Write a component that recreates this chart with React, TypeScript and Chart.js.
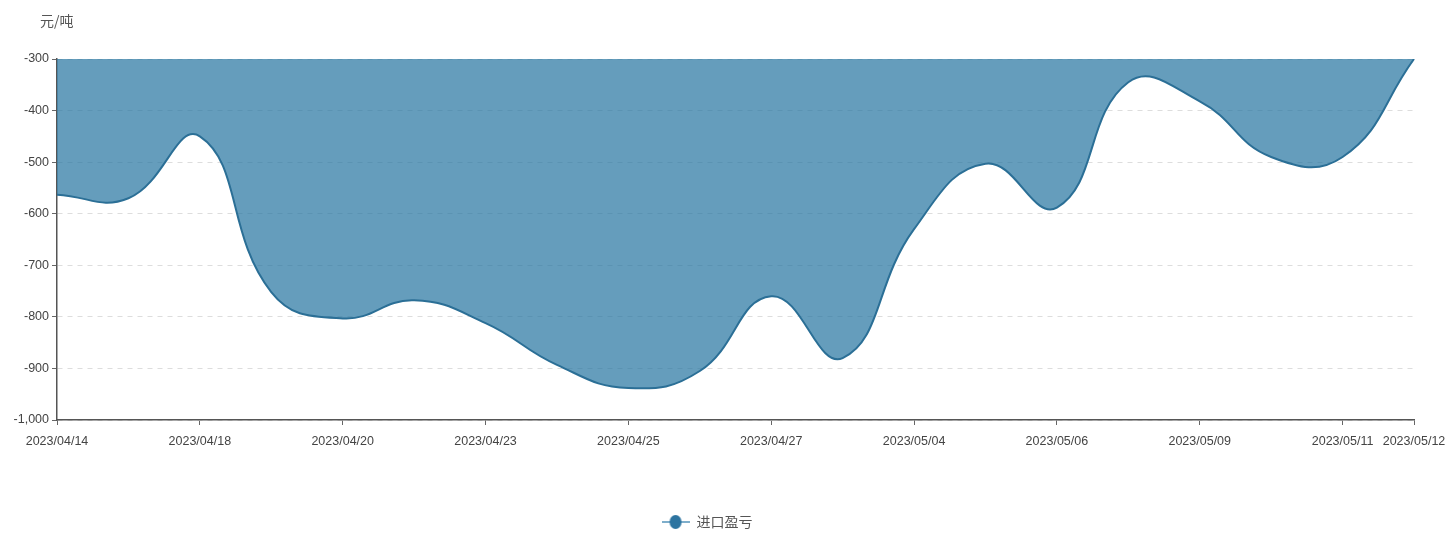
import React, { useEffect, useRef } from 'react';
import { Chart, registerables } from 'chart.js';

Chart.register(...registerables);

const categories = [
  '2023/04/14', '2023/04/17', '2023/04/18', '2023/04/19', '2023/04/20',
  '2023/04/21', '2023/04/23', '2023/04/24', '2023/04/25', '2023/04/26',
  '2023/04/27', '2023/04/28', '2023/05/04', '2023/05/05', '2023/05/06',
  '2023/05/08', '2023/05/09', '2023/05/10', '2023/05/11', '2023/05/12',
];

const importProfit = [
  -563, -570, -450, -752, -803,
  -768, -812, -893, -938, -905,
  -760, -880, -630, -503, -588,
  -345, -382, -490, -490, -300,
];

const shownTickLabels = [
  '2023/04/14', '2023/04/18', '2023/04/20', '2023/04/23', '2023/04/25',
  '2023/04/27', '2023/05/04', '2023/05/06', '2023/05/09', '2023/05/11', '2023/05/12',
];

const seriesName = '进口盈亏';
const unitLabel = '元/吨';
const yMin = -1000;
const yMax = -300;
const yStep = 100;

const tickFont = "'Liberation Sans', Arial, sans-serif";
const cjkFont = "'Noto Sans CJK SC', sans-serif";

function makeLegendIcon(): HTMLCanvasElement {
  const c = document.createElement('canvas');
  c.width = 28;
  c.height = 16;
  const ctx = c.getContext('2d')!;
  ctx.strokeStyle = '#7eaecb';
  ctx.lineWidth = 2;
  ctx.beginPath();
  ctx.moveTo(0, 8);
  ctx.lineTo(28, 8);
  ctx.stroke();
  ctx.fillStyle = '#2d74a0';
  ctx.beginPath();
  ctx.ellipse(14, 8, 6, 7, 0, 0, Math.PI * 2);
  ctx.fill();
  return c;
}

const unitPlugin = {
  id: 'unitLabel',
  afterDraw(chart: any) {
    const ctx = chart.ctx;
    ctx.save();
    ctx.font = `14px ${cjkFont}`;
    ctx.fillStyle = '#555';
    ctx.textBaseline = 'middle';
    ctx.textAlign = 'left';
    ctx.fillText(unitLabel, 40, 21);
    ctx.restore();
  },
};

export default function App() {
  const ref = useRef<HTMLCanvasElement>(null);

  useEffect(() => {
    if (!ref.current) return;
    const icon = makeLegendIcon();
    const chart = new Chart(ref.current, {
      type: 'line',
      data: {
        labels: categories,
        datasets: [
          {
            label: seriesName,
            data: importProfit,
            fill: 'end',
            backgroundColor: 'rgba(35,115,160,0.7)',
            borderColor: '#2b6f96',
            borderWidth: 2,
            pointRadius: 0,
            pointStyle: icon as any,
            tension: 0.45,
          },
        ],
      },
      options: {
        responsive: false,
        animation: false,
        events: [],
        layout: { padding: { top: 59, right: 34, left: 0, bottom: -6 } },
        plugins: {
          tooltip: { enabled: false },
          legend: {
            position: 'bottom',
            labels: {
              usePointStyle: true,
              pointStyle: icon as any,
              pointStyleWidth: 28,
              padding: 4,
              color: '#555',
              font: { family: cjkFont, size: 14 },
            },
          },
        },
        scales: {
          x: {
            offset: false,
            grid: {
              display: true,
              drawOnChartArea: false,
              drawTicks: true,
              tickLength: 5,
              tickColor: '#666',
            },
            border: { color: '#555', width: 1.5 },
            ticks: {
              autoSkip: false,
              maxRotation: 0,
              minRotation: 0,
              padding: 9,
              color: '#444',
              font: { family: tickFont, size: 12.5 },
              callback: (_v: any, idx: number) =>
                shownTickLabels.includes(categories[idx]) ? categories[idx] : null,
            },
            afterFit: (scale: any) => {
              scale.height = 91;
              scale.paddingRight = 0;
            },
          },
          y: {
            min: yMin,
            max: yMax,
            grid: {
              color: '#dddddd',
              drawTicks: true,
              tickLength: 5,
              tickColor: '#666',
              tickBorderDash: [],
            },
            border: { color: '#555', width: 1.5, dash: [5, 5] },
            ticks: {
              stepSize: yStep,
              padding: 3,
              color: '#444',
              font: { family: tickFont, size: 12.5 },
            },
            afterFit: (scale: any) => {
              scale.width = 57;
            },
          },
        },
      },
      plugins: [unitPlugin],
    });
    return () => chart.destroy();
  }, []);

  return (
    <div style={{ position: 'absolute', left: 0, top: 0, width: 1448, height: 533 }}>
      <canvas ref={ref} width={1448} height={533} />
    </div>
  );
}
